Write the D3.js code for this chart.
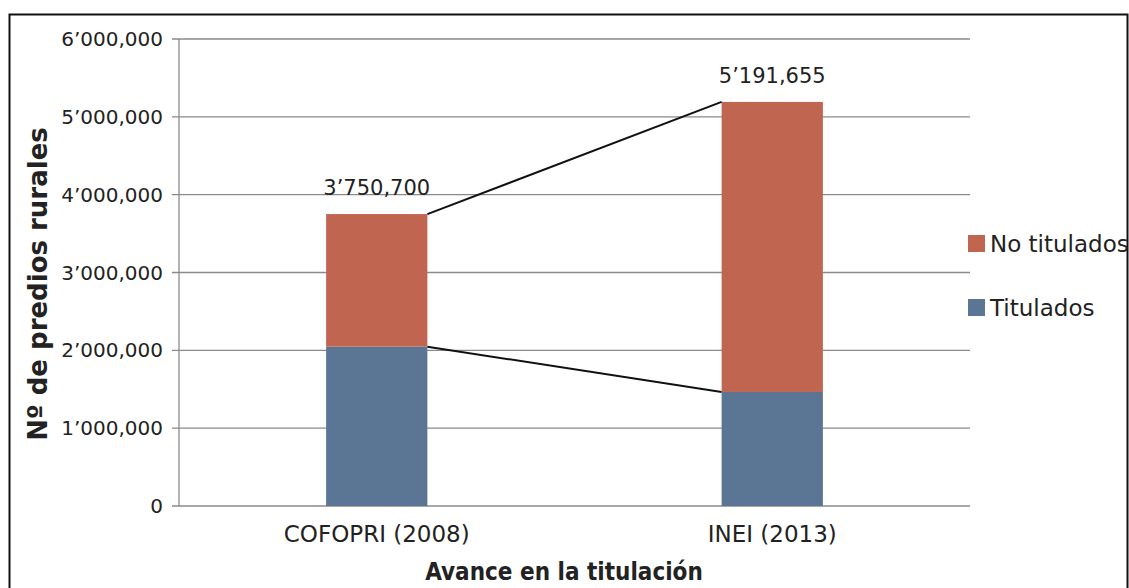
<!DOCTYPE html>
<html>
<head>
<meta charset="utf-8">
<script src="https://cdn.jsdelivr.net/npm/d3@7"></script>
<style>
  body { margin: 0; background: #fff; }
  svg text { font-family: "DejaVu Sans", sans-serif; fill: #222; }
</style>
</head>
<body>
<svg id="chart" width="1129" height="588"></svg>
<script>
var categories = ['COFOPRI (2008)', 'INEI (2013)'];
var titulados = [2047000, 1465000];
var noTitulados = [1703700, 3726655];
var totalLabels = ["3’750,700", "5’191,655"];
var series = ['Titulados', 'No titulados'];
var colors = {'Titulados': '#5b7595', 'No titulados': '#c0654f'};
var yTicks = [0, 1000000, 2000000, 3000000, 4000000, 5000000, 6000000];

var svg = d3.select('#chart');

// marco exterior
svg.append('rect')
    .attr('x', 9.5).attr('y', 14.5)
    .attr('width', 1118).attr('height', 600)
    .attr('fill', 'none').attr('stroke', '#111').attr('stroke-width', 2);

var pLeft = 179, pRight = 970, pTop = 39, pBottom = 506;

var x = d3.scaleBand().domain(categories).range([pLeft, pRight]).paddingInner(0.744).paddingOuter(0.372);
var y = d3.scaleLinear().domain([0, 6000000]).range([pBottom, pTop]);

var fmt = function (d) {
    if (d === 0) return '0';
    var s = d3.format(',')(d);
    return s.replace(/^(\d+),/, '$1’');
};

// grid
svg.append('g').selectAll('line').data(yTicks).enter().append('line')
    .attr('x1', pLeft - 7).attr('x2', pRight)
    .attr('y1', function (d) { return y(d); }).attr('y2', function (d) { return y(d); })
    .attr('stroke', '#8a8a8a').attr('stroke-width', 1.3);

svg.append('line').attr('x1', pLeft).attr('x2', pLeft).attr('y1', pTop).attr('y2', pBottom)
    .attr('stroke', '#8a8a8a').attr('stroke-width', 1.3);

svg.append('g').selectAll('text').data(yTicks).enter().append('text')
    .attr('x', pLeft - 16).attr('y', function (d) { return y(d); })
    .attr('dy', '0.35em').attr('text-anchor', 'end')
    .style('font-size', '20px')
    .text(fmt);

// stacked bars
var rows = categories.map(function (c, i) {
    return {cat: c, 'Titulados': titulados[i], 'No titulados': noTitulados[i]};
});
var stacked = d3.stack().keys(series)(rows);

svg.append('g').selectAll('g').data(stacked).enter().append('g')
    .attr('fill', function (d) { return colors[d.key]; })
    .selectAll('rect').data(function (d) { return d; }).enter().append('rect')
    .attr('x', function (d) { return x(d.data.cat); })
    .attr('y', function (d) { return y(d[1]); })
    .attr('height', function (d) { return y(d[0]) - y(d[1]); })
    .attr('width', x.bandwidth());

// series lines
stacked.forEach(function (s) {
    svg.append('line')
        .attr('x1', x(categories[0]) + x.bandwidth()).attr('y1', y(s[0][1]))
        .attr('x2', x(categories[1])).attr('y2', y(s[1][1]))
        .attr('stroke', '#111').attr('stroke-width', 2);
});

// total labels
svg.append('g').selectAll('text').data(categories).enter().append('text')
    .attr('x', function (d) { return x(d) + x.bandwidth() / 2; })
    .attr('y', function (d, i) { return y(titulados[i] + noTitulados[i]) - 19; })
    .attr('text-anchor', 'middle')
    .style('font-size', '21px')
    .text(function (d, i) { return totalLabels[i]; });

// x labels
svg.append('g').selectAll('text').data(categories).enter().append('text')
    .attr('x', function (d) { return x(d) + x.bandwidth() / 2; })
    .attr('y', 542)
    .attr('text-anchor', 'middle')
    .style('font-size', '23px')
    .text(function (d) { return d; });

// axis titles
svg.append('text')
    .attr('x', 564).attr('y', 580)
    .attr('text-anchor', 'middle')
    .style('font-family', '"DejaVu Sans Condensed", sans-serif')
    .style('font-size', '24px').style('font-weight', 'bold')
    .text('Avance en la titulación');

svg.append('text')
    .attr('transform', 'translate(47,284) rotate(-90)')
    .attr('text-anchor', 'middle')
    .style('font-size', '26px').style('font-weight', 'bold')
    .text('Nº de predios rurales');

// legend
var legendItems = ['No titulados', 'Titulados'];
var lg = svg.append('g').selectAll('g').data(legendItems).enter().append('g')
    .attr('transform', function (d, i) { return 'translate(968,' + (244 + i * 64) + ')'; });
lg.append('rect').attr('x', 0).attr('y', -9).attr('width', 17).attr('height', 17)
    .attr('fill', function (d) { return colors[d]; });
lg.append('text').attr('x', 22).attr('dy', '0.35em')
    .style('font-size', '23px')
    .text(function (d) { return d; });
</script>
</body>
</html>
